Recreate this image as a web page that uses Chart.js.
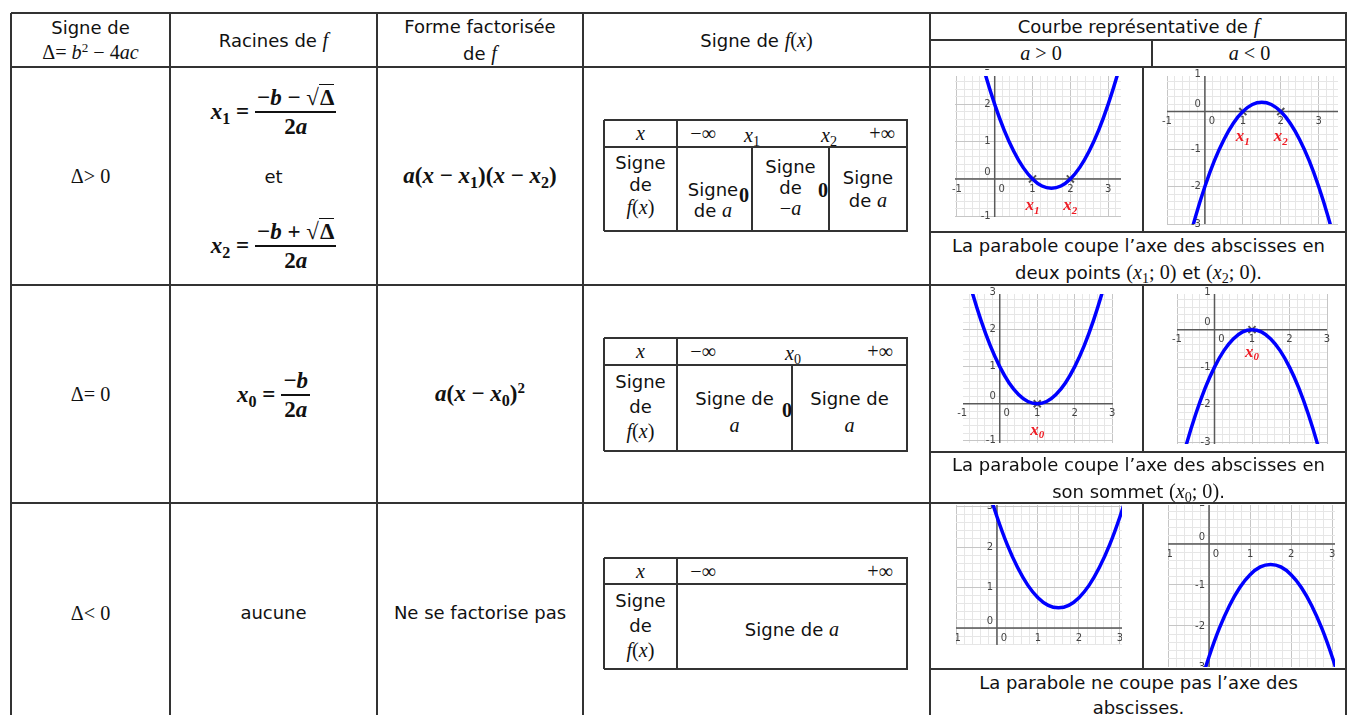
<!DOCTYPE html>
<html>
<head>
<meta charset="utf-8">
<script src="https://cdn.jsdelivr.net/npm/chart.js@4.4.0/dist/chart.umd.min.js"></script>
<style>
body{margin:0;background:#fff;width:1347px;height:715px;overflow:hidden;position:relative;
  font-family:"DejaVu Sans",sans-serif;font-size:18px;color:#111}
.hl{position:absolute;height:2px;background:#333}
.vl{position:absolute;width:2px;background:#333}
.c{position:absolute;display:flex;flex-direction:column;align-items:center;justify-content:center;text-align:center;line-height:24px;white-space:nowrap}
.s{font-family:"Liberation Serif","DejaVu Serif",serif;font-size:1.12em}
.s .s{font-size:1em}
.s i{font-style:italic}
.b{font-weight:bold;font-size:23px}
sub{font-size:0.7em;vertical-align:-0.3em;line-height:0}
sup{font-size:0.65em;vertical-align:0.55em;line-height:0}
.eq{display:flex;align-items:center;gap:6px}
.frac{display:inline-flex;flex-direction:column;align-items:center;line-height:27px}
.frac>span:first-child{border-bottom:2px solid #111;padding:0 2px}
.ov{border-top:1.5px solid #111;padding-left:1px;line-height:19px}
canvas{position:absolute}
</style>
</head>
<body>
<canvas id="cA1"></canvas><canvas id="cA2"></canvas>
<canvas id="cB1"></canvas><canvas id="cB2"></canvas>
<canvas id="cC1"></canvas><canvas id="cC2"></canvas>
<script>
// Valeurs (abscisses / ordonnées)
const xsA = [-0.5, -0.25, 0, 0.25, 0.5, 0.75, 1, 1.25, 1.5, 1.75, 2, 2.25, 2.5, 2.75, 3, 3.25, 3.5];
const ysA1 = [3.75, 2.81, 2, 1.31, 0.75, 0.31, 0, -0.19, -0.25, -0.19, 0, 0.31, 0.75, 1.31, 2, 2.81, 3.75];
const ysA2 = [-3.75, -2.81, -2, -1.31, -0.75, -0.31, 0, 0.19, 0.25, 0.19, 0, -0.31, -0.75, -1.31, -2, -2.81, -3.75];

const xsB = [-1, -0.75, -0.5, -0.25, 0, 0.25, 0.5, 0.75, 1, 1.25, 1.5, 1.75, 2, 2.25, 2.5, 2.75, 3];
const ysB1 = [4, 3.06, 2.25, 1.56, 1, 0.56, 0.25, 0.06, 0, 0.06, 0.25, 0.56, 1, 1.56, 2.25, 3.06, 4];
const ysB2 = [-4, -3.06, -2.25, -1.56, -1, -0.56, -0.25, -0.06, 0, -0.06, -0.25, -0.56, -1, -1.56, -2.25, -3.06, -4];

const xsC = [-0.5, -0.25, 0, 0.25, 0.5, 0.75, 1, 1.25, 1.5, 1.75, 2, 2.25, 2.5, 2.75, 3, 3.25, 3.5];
const ysC1 = [4.5, 3.56, 2.75, 2.06, 1.5, 1.06, 0.75, 0.56, 0.5, 0.56, 0.75, 1.06, 1.5, 2.06, 2.75, 3.56, 4.5];
const ysC2 = [-4.5, -3.56, -2.75, -2.06, -1.5, -1.06, -0.75, -0.56, -0.5, -0.56, -0.75, -1.06, -1.5, -2.06, -2.75, -3.56, -4.5];

// racines marquées et leurs indices
const rootsA = [1, 2];
const rootSubsA = ['1', '2'];
const rootsB = [1];
const rootSubsB = ['0'];

// graduations affichées
const xTickLabels = [-1, 0, 1, 2, 3];
const yTickLabelsUp = [-1, 0, 1, 2, 3];
const yTickLabelsDown = [-3, -2, -1, 0, 1];

// ---- tableau ----
function H(x, y, w) {
  const d = document.createElement('div'); d.className = 'hl';
  d.style.cssText = `left:${x}px;top:${y - 1}px;width:${w}px`;
  document.body.appendChild(d);
}
function V(x, y, h) {
  const d = document.createElement('div'); d.className = 'vl';
  d.style.cssText = `left:${x - 1}px;top:${y}px;height:${h}px`;
  document.body.appendChild(d);
}
function T(x, y, w, h, html, extra) {
  const d = document.createElement('div'); d.className = 'c';
  d.style.cssText = `left:${x}px;top:${y}px;width:${w}px;height:${h}px;${extra || ''}`;
  d.innerHTML = '<div>' + html + '</div>';
  document.body.appendChild(d);
}

H(11, 13, 1336); H(930, 40, 417); H(11, 67, 1336); H(11, 285, 1336); H(11, 503, 1336);
H(930, 232, 417); H(930, 452, 417); H(930, 669, 417);
[11, 170, 377, 583, 930, 1346].forEach(x => V(x, 13, 702));
V(1152, 40, 27); V(1143, 67, 165); V(1143, 285, 167); V(1143, 503, 166);

const fx = '<span class="s"><i>f</i>(<i>x</i>)</span>';
const fa = '<span class="s"><i>a</i></span>';

// en-têtes
T(11, 13, 159, 54, 'Signe de<br><span class="s">Δ= <i>b</i><sup>2</sup> − 4<i>ac</i></span>');
T(170, 13, 207, 54, 'Racines de <span class="s"><i>f</i></span>');
T(377, 13, 206, 54, 'Forme factorisée<br>de <span class="s"><i>f</i></span>', 'line-height:27px');
T(583, 13, 347, 54, 'Signe de ' + fx);
T(930, 13, 417, 27, 'Courbe représentative de <span class="s"><i>f</i></span>');
T(930, 40, 222, 27, '<span class="s"><i>a</i> &gt; 0</span>');
T(1152, 40, 195, 27, '<span class="s"><i>a</i> &lt; 0</span>');

// ligne Δ > 0
T(11, 67, 159, 218, '<span class="s">Δ&gt; 0</span>');
const frac = (n, d) => `<span class="frac"><span>${n}</span><span>${d}</span></span>`;
const sq = '√<span class="ov">Δ</span>';
T(170, 80, 207, 64, `<span class="eq s b"><span><i>x</i><sub>1</sub> =</span>${frac('−<i>b</i> − ' + sq, '2<i>a</i>')}</span>`);
T(170, 165, 207, 24, 'et');
T(170, 214, 207, 64, `<span class="eq s b"><span><i>x</i><sub>2</sub> =</span>${frac('−<i>b</i> + ' + sq, '2<i>a</i>')}</span>`);
T(377, 67, 206, 218, '<span class="s b"><i>a</i>(<i>x</i> − <i>x</i><sub>1</sub>)(<i>x</i> − <i>x</i><sub>2</sub>)</span>');

// ligne Δ = 0
T(11, 285, 159, 218, '<span class="s">Δ= 0</span>');
T(170, 365, 207, 60, `<span class="eq s b"><span><i>x</i><sub>0</sub> =</span>${frac('−<i>b</i>', '2<i>a</i>')}</span>`);
T(377, 285, 206, 218, '<span class="s b"><i>a</i>(<i>x</i> − <i>x</i><sub>0</sub>)<sup>2</sup></span>');

// ligne Δ < 0
T(11, 503, 159, 220, '<span class="s">Δ&lt; 0</span>');
T(170, 503, 207, 220, 'aucune');
T(377, 503, 206, 220, 'Ne se factorise pas');

// tableaux de signes
const xs = '<span class="s"><i>x</i></span>';
const minf = '<span class="s">−∞</span>', pinf = '<span class="s">+∞</span>';
const zero = '<span class="s" style="font-weight:bold">0</span>';
const sdf = `Signe<br>de<br>${fx}`;

H(604, 120, 304); H(604, 147, 304); H(604, 231, 304);
V(604, 120, 111); V(907, 120, 111); V(677, 120, 111); V(752, 147, 84); V(829, 147, 84);
T(604, 120, 73, 27, xs);
T(680, 120, 46, 27, minf); T(737, 122, 30, 27, '<span class="s"><i>x</i><sub>1</sub></span>');
T(814, 122, 30, 27, '<span class="s"><i>x</i><sub>2</sub></span>'); T(862, 120, 40, 27, pinf);
T(604, 141, 73, 88, sdf, 'line-height:22px');
T(677, 178, 72, 44, 'Signe<br>de ' + fa, 'line-height:21px');
T(736, 183, 16, 24, zero);
T(752, 155, 77, 64, 'Signe<br>de<br><span class="s">−<i>a</i></span>', 'line-height:21px');
T(815, 178, 16, 24, zero);
T(829, 167, 78, 44, 'Signe<br>de ' + fa, 'line-height:22px');

H(604, 338, 304); H(604, 365, 304); H(604, 451, 304);
V(604, 338, 113); V(907, 338, 113); V(677, 338, 113); V(792, 365, 86);
T(604, 338, 73, 27, xs);
T(680, 338, 46, 27, minf); T(778, 340, 30, 27, '<span class="s"><i>x</i><sub>0</sub></span>'); T(860, 338, 40, 27, pinf);
T(604, 366, 73, 80, sdf, 'line-height:25px');
T(677, 390, 115, 44, 'Signe de<br>' + fa, 'line-height:26px');
T(780, 398, 14, 24, zero);
T(792, 390, 115, 44, 'Signe de<br>' + fa, 'line-height:26px');

H(604, 558, 304); H(604, 584, 304); H(604, 669, 304);
V(604, 558, 111); V(907, 558, 111); V(677, 558, 111);
T(604, 558, 73, 26, xs);
T(680, 558, 46, 26, minf); T(860, 558, 40, 26, pinf);
T(604, 585, 73, 80, sdf, 'line-height:25px');
T(677, 617, 230, 24, 'Signe de ' + fa);

// phrases sous les courbes
T(930, 233, 417, 52, 'La parabole coupe l’axe des abscisses en<br>deux points <span class="s">(<i>x</i><sub>1</sub>; 0)</span> et <span class="s">(<i>x</i><sub>2</sub>; 0)</span>.', 'line-height:26px');
T(930, 453, 417, 50, 'La parabole coupe l’axe des abscisses en<br>son sommet <span class="s">(<i>x</i><sub>0</sub>; 0)</span>.', 'line-height:26px');
T(930, 670, 417, 50, 'La parabole ne coupe pas l’axe des<br>abscisses.', 'line-height:25px');

// ---- courbes ----
function gridTicks(axis) {
  const out = [];
  for (let k = Math.ceil(axis.min * 5); k <= Math.floor(axis.max * 5); k++) out.push({ value: k / 5 });
  axis.ticks = out;
}
const isMajor = v => Math.abs(v - Math.round(v)) < 1e-6;

function geoPlugin(cfg) {
  return {
    id: 'geo',
    beforeDatasetsDraw(chart) {
      const { ctx, chartArea: a, scales: { x, y } } = chart;
      const x0 = x.getPixelForValue(0), y0 = y.getPixelForValue(0);
      ctx.save();
      ctx.strokeStyle = '#5a5a5a';
      ctx.lineWidth = 1.5;
      ctx.beginPath();
      ctx.moveTo(a.left, y0); ctx.lineTo(a.right, y0);
      ctx.moveTo(x0, a.top); ctx.lineTo(x0, a.bottom);
      ctx.stroke();
      ctx.fillStyle = '#444';
      ctx.font = '10px "DejaVu Sans"';
      ctx.textAlign = 'center'; ctx.textBaseline = 'top';
      xTickLabels.forEach(v => ctx.fillText(String(v), x.getPixelForValue(v) + (v === 0 ? 7 : 0), y0 + 5));
      ctx.textAlign = 'right'; ctx.textBaseline = 'middle';
      cfg.yLabels.forEach(v => ctx.fillText(String(v), x0 - 4, y.getPixelForValue(v) - (v === 0 ? 7 : 0)));
      ctx.restore();
    },
    afterDatasetsDraw(chart) {
      const { ctx, scales: { x, y } } = chart;
      ctx.save();
      ctx.fillStyle = '#ee1c24';
      ctx.textBaseline = 'middle'; ctx.textAlign = 'left';
      cfg.roots.forEach((r, i) => {
        const px = x.getPixelForValue(r), py = y.getPixelForValue(cfg.labelY);
        ctx.font = 'bold italic 17px "Liberation Serif"';
        const w = ctx.measureText('x').width;
        ctx.font = 'bold italic 11px "Liberation Serif"';
        const ws = ctx.measureText(cfg.subs[i]).width;
        const left = px - (w + ws) / 2;
        ctx.font = 'bold italic 17px "Liberation Serif"';
        ctx.fillText('x', left, py);
        ctx.font = 'bold italic 11px "Liberation Serif"';
        ctx.fillText(cfg.subs[i], left + w, py + 5);
      });
      ctx.restore();
    }
  };
}

function scaleOpts(min, max) {
  return {
    type: 'linear', min, max,
    border: { display: false },
    grid: { drawTicks: false, lineWidth: 1, color: c => isMajor(c.tick.value) ? '#c6c6c6' : '#e6e6e6' },
    ticks: { display: false },
    afterBuildTicks: gridTicks
  };
}

function parabola(id, box, xsv, ysv, roots, subs, yLabels, labelY) {
  const cv = document.getElementById(id);
  cv.width = box.w; cv.height = box.h;
  cv.style.left = box.left + 'px'; cv.style.top = box.top + 'px';
  const datasets = [{
    data: xsv.map((v, i) => ({ x: v, y: ysv[i] })),
    borderColor: '#0000ff', borderWidth: 3.5, pointRadius: 0, tension: 0.4, fill: false
  }];
  if (roots.length) datasets.push({
    type: 'scatter', data: roots.map(r => ({ x: r, y: 0 })),
    pointStyle: 'crossRot', pointRadius: 5, borderColor: '#555', backgroundColor: '#555', borderWidth: 2
  });
  new Chart(cv.getContext('2d'), {
    type: 'line',
    data: { datasets },
    options: {
      responsive: false, animation: false, events: [],
      layout: { padding: 0 },
      plugins: { legend: { display: false }, tooltip: { enabled: false } },
      scales: { x: scaleOpts(box.xmin, box.xmax), y: scaleOpts(box.ymin, box.ymax) }
    },
    plugins: [geoPlugin({ roots, subs, yLabels, labelY })]
  });
}

parabola('cA1', { left: 948, top: 69, w: 180, h: 155, xmin: -1.05, xmax: 3.34, ymin: -1.02, ymax: 2.76 }, xsA, ysA1, rootsA, rootSubsA, yTickLabelsUp, -0.72);
parabola('cA2', { left: 1160, top: 69, w: 185, h: 162, xmin: -1.0, xmax: 3.51, ymin: -3.0, ymax: 0.95 }, xsA, ysA2, rootsA, rootSubsA, yTickLabelsDown, -0.68);
parabola('cB1', { left: 956, top: 287, w: 164, h: 163, xmin: -0.98, xmax: 3.02, ymin: -1.06, ymax: 2.96 }, xsB, ysB1, rootsB, rootSubsB, yTickLabelsUp, -0.72);
parabola('cB2', { left: 1170, top: 287, w: 164, h: 164, xmin: -1.0, xmax: 3.0, ymin: -3.05, ymax: 0.95 }, xsB, ysB2, rootsB, rootSubsB, yTickLabelsDown, -0.6);
parabola('cC1', { left: 956, top: 505, w: 166, h: 140, xmin: -1.0, xmax: 3.05, ymin: -0.42, ymax: 3.04 }, xsC, ysC1, [], [], yTickLabelsUp, 0);
parabola('cC2', { left: 1168, top: 505, w: 167, h: 162, xmin: -1.0, xmax: 3.07, ymin: -3.0, ymax: 0.95 }, xsC, ysC2, [], [], yTickLabelsDown, 0);
</script>
</body>
</html>
